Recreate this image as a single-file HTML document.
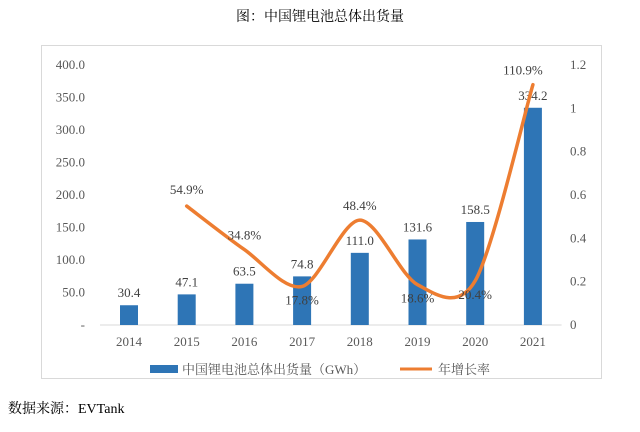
<!DOCTYPE html>
<html><head><meta charset="utf-8"><style>
body{margin:0;background:#fff;width:640px;height:427px;overflow:hidden}
svg text{font-family:"Liberation Serif","Noto Serif CJK SC",serif}
</style></head><body>
<svg width="640" height="427">
<text x="320" y="21" text-anchor="middle" font-size="14" fill="#000">图：中国锂电池总体出货量</text>
<rect x="41.5" y="45.5" width="560" height="333" fill="none" stroke="#d9d9d9"/>
<g id="g"></g>
<g>
<rect x="150" y="365" width="28" height="8" fill="#2e75b6"/>
<text x="182" y="374" font-size="13" fill="#595959">中国锂电池总体出货量（GWh）</text>
<line x1="400" y1="369" x2="432" y2="369" stroke="#ed7d31" stroke-width="3"/>
<text x="438" y="374" font-size="13" fill="#595959">年增长率</text>
</g>
<text x="8" y="413" font-size="14" fill="#000">数据来源：EVTank</text>
</svg>
<script>
const years=["2014","2015","2016","2017","2018","2019","2020","2021"];
const shipments=[30.4,47.1,63.5,74.8,111.0,131.6,158.5,334.2];
const growth=[null,0.549,0.348,0.178,0.484,0.186,0.204,1.109];
const growthLabels=["","54.9%","34.8%","17.8%","48.4%","18.6%","20.4%","110.9%"];
const leftTicks=[0,50,100,150,200,250,300,350,400];
const rightTicks=[0,0.2,0.4,0.6,0.8,1,1.2];
const NS="http://www.w3.org/2000/svg";
const g=document.getElementById('g');
const x0=100,y0=325,step=57.7,ph=260;
const xs=i=>x0+29+i*step;
const yl=v=>y0-v/400*ph;
const yr=v=>y0-v/1.2*ph;
function mk(t,a,txt){const e=document.createElementNS(NS,t);for(const k in a)e.setAttribute(k,a[k]);if(txt!=null)e.textContent=txt;g.appendChild(e);return e;}
let e=mk('line',{x1:x0,y1:y0,x2:x0+8*step,y2:y0,stroke:'#d9d9d9'});


leftTicks.forEach(v=>{const t=mk('text',{x:85,y:yl(v)+4,'text-anchor':'end','font-size':13,fill:'#595959'},v===0?'-':v.toFixed(1));

});
rightTicks.forEach(v=>{const t=mk('text',{x:570,y:yr(v)+4,'font-size':13,fill:'#595959'},String(v));

});
years.forEach((y,i)=>{const t=mk('text',{x:xs(i),y:346,'text-anchor':'middle','font-size':13,fill:'#595959'},y);

});
shipments.forEach((v,i)=>{const r=mk('rect',{x:xs(i)-9,y:yl(v),width:18,height:y0-yl(v),fill:'#2e75b6'});


const t=mk('text',{x:xs(i),y:yl(v)-8,'text-anchor':'middle','font-size':13,fill:'#404040'},v.toFixed(1));

});
const pts=[];growth.forEach((v,i)=>{if(v!=null)pts.push([xs(i),yr(v)]);});
let d='M'+pts[0][0]+','+pts[0][1];const k=0.3;
for(let i=0;i<pts.length-1;i++){const p0=pts[Math.max(0,i-1)],p1=pts[i],p2=pts[i+1],p3=pts[Math.min(pts.length-1,i+2)];
d+=' C'+(p1[0]+(p2[0]-p0[0])*k/2)+','+(p1[1]+(p2[1]-p0[1])*k/2)+' '+(p2[0]-(p3[0]-p1[0])*k/2)+','+(p2[1]-(p3[1]-p1[1])*k/2)+' '+p2[0]+','+p2[1];}
const path=mk('path',{d:d,fill:'none',stroke:'#ed7d31','stroke-width':3.5,'stroke-linecap':'round'});


const offs=[0,-12,-10,14,-10,14,14,-10];
growth.forEach((v,i)=>{if(v==null)return;const t=mk('text',{x:xs(i)+(i===7?-10:0),y:yr(v)+offs[i]+(offs[i]>0?4:0),'text-anchor':'middle','font-size':13,fill:'#404040'},growthLabels[i]);

});
</script>
</body></html>
